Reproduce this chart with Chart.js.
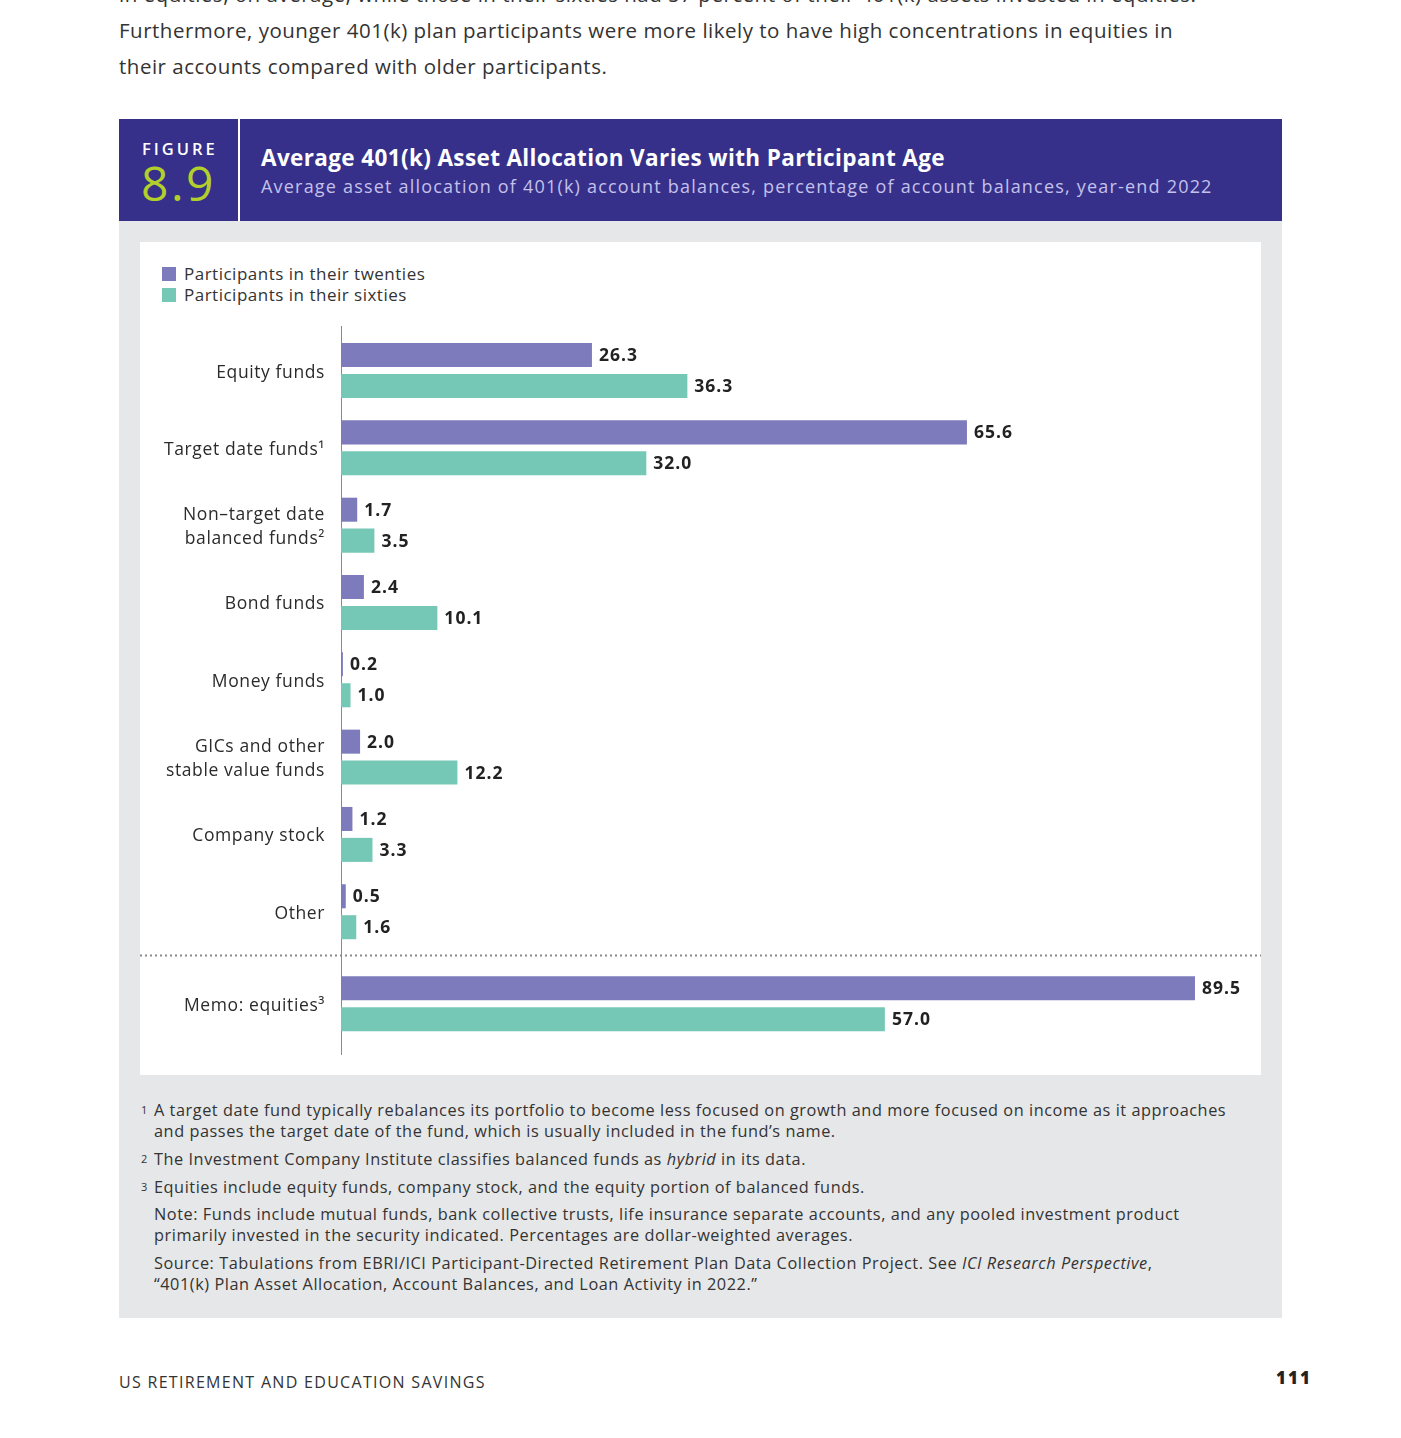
<!DOCTYPE html>
<html>
<head>
<meta charset="utf-8">
<script src="https://cdn.jsdelivr.net/npm/chart.js@4.4.0/dist/chart.umd.min.js"></script>
<style>
  html, body { margin:0; padding:0; background:#fff; }
  body { width:1401px; height:1438px; position:relative; overflow:hidden; font-family: "Open Sans", Lato, sans-serif; color:#2b2b2b; }
  .abs { position:absolute; }
  .intro { left:119px; font-size:20.5px; line-height:36px; color:#333; white-space:nowrap; letter-spacing:0.5px; }
  #header { left:119px; top:119px; width:1163px; height:102px; background:#36308a; }
  #divider { left:238px; top:119px; width:2px; height:102px; background:#fff; }
  #figlbl { left:142px; top:137px; font-size:16.5px; letter-spacing:3px; color:#fff; font-weight:600; }
  #fignum { left:141px; top:154px; font-size:48px; color:#b3cf2b; letter-spacing:2.5px; line-height:58px; }
  #title { left:261px; top:142px; font-size:22.5px; font-weight:700; color:#fff; letter-spacing:0.37px; }
  #subtitle { left:261px; top:174px; font-size:18px; color:#c4c1ea; letter-spacing:1.2px; }
  #panel { left:119px; top:221px; width:1163px; height:1097px; background:#e6e7e8; }
  #card { left:140px; top:242px; width:1121px; height:833px; background:#fff; }
  #legend { left:162px; top:263px; font-size:17px; color:#333; letter-spacing:0.5px; }
  #legend div { height:21px; line-height:21px; display:flex; align-items:center; }
  #legend span.sw { display:inline-block; width:14px; height:14px; margin-right:8px; }
  #chartbox { left:140px; top:310px; width:1121px; height:765px; }
  .fn { font-size:16.3px; line-height:21px; color:#333; white-space:nowrap; letter-spacing:0.55px; }
  .fn sup { font-size:11px; vertical-align:top; position:absolute; left:-13px; top:-1px; letter-spacing:0; }
  .footer { font-size:16px; color:#333; letter-spacing:1.3px; }
</style>
</head>
<body>
<div class="abs intro" style="top:-24px;">in equities, on average, while those in their sixties had 57 percent of their 401(k) assets invested in equities.</div>
<div class="abs intro" style="top:12px;">Furthermore, younger 401(k) plan participants were more likely to have high concentrations in equities in</div>
<div class="abs intro" style="top:48px;">their accounts compared with older participants.</div>

<div id="header" class="abs"></div>
<div id="divider" class="abs"></div>
<div id="figlbl" class="abs">FIGURE</div>
<div id="fignum" class="abs">8.9</div>
<div id="title" class="abs">Average 401(k) Asset Allocation Varies with Participant Age</div>
<div id="subtitle" class="abs">Average asset allocation of 401(k) account balances, percentage of account balances, year-end 2022</div>

<div id="panel" class="abs"></div>
<div id="card" class="abs"></div>
<div id="legend" class="abs"></div>
<div id="chartbox" class="abs"><canvas id="c" width="1121" height="765"></canvas></div>

<div class="abs fn" style="left:154px; top:1100px;"><sup>1</sup>A target date fund typically rebalances its portfolio to become less focused on growth and more focused on income as it approaches<br>and passes the target date of the fund, which is usually included in the fund’s name.</div>
<div class="abs fn" style="left:154px; top:1149px;"><sup>2</sup>The Investment Company Institute classifies balanced funds as <i>hybrid</i> in its data.</div>
<div class="abs fn" style="left:154px; top:1177px;"><sup>3</sup>Equities include equity funds, company stock, and the equity portion of balanced funds.</div>
<div class="abs fn" style="left:154px; top:1204px;">Note: Funds include mutual funds, bank collective trusts, life insurance separate accounts, and any pooled investment product<br>primarily invested in the security indicated. Percentages are dollar-weighted averages.</div>
<div class="abs fn" style="left:154px; top:1253px;">Source: Tabulations from EBRI/ICI Participant-Directed Retirement Plan Data Collection Project. See <i>ICI Research Perspective</i>,<br>“401(k) Plan Asset Allocation, Account Balances, and Loan Activity in 2022.”</div>

<div class="abs footer" style="left:119px; top:1371px;">US RETIREMENT AND EDUCATION SAVINGS</div>
<div class="abs footer" style="left:1252px; top:1366px; width:60px; text-align:right; font-weight:800; font-size:17px; color:#222; letter-spacing:2px;">111</div>

<script>
// ---- data ----
const categories = [
  'Equity funds',
  'Target date funds¹',
  ['Non–target date', 'balanced funds²'],
  'Bond funds',
  'Money funds',
  ['GICs and other', 'stable value funds'],
  'Company stock',
  'Other',
  'Memo: equities³'
];
const seriesNames = ['Participants in their twenties', 'Participants in their sixties'];
const twenties = [26.3, 65.6, 1.7, 2.4, 0.2, 2.0, 1.2, 0.5, 89.5];
const sixties  = [36.3, 32.0, 3.5, 10.1, 1.0, 12.2, 3.3, 1.6, 57.0];
// slot index of each category on the vertical axis (memo row sits after a separator)
const slots = [0, 1, 2, 3, 4, 5, 6, 7, 8.19];
const separatorSlot = 7.56;

const colors = ['#7d7bbb', '#76c8b6'];
const FONT = '"Open Sans", Lato, sans-serif';

// HTML legend
const legendEl = document.getElementById('legend');
seriesNames.forEach((n, i) => {
  const d = document.createElement('div');
  d.innerHTML = '<span class="sw" style="background:' + colors[i] + '"></span>' + n;
  legendEl.appendChild(d);
});

const spacing = {
  id: 'spacing',
  beforeDraw(chart) { chart.ctx.letterSpacing = '0.6px'; }
};

const valueLabels = {
  id: 'valueLabels',
  afterDatasetsDraw(chart) {
    const ctx = chart.ctx;
    ctx.save();
    ctx.letterSpacing = '1px';
    ctx.font = 'bold 17.5px ' + FONT;
    ctx.fillStyle = '#222';
    ctx.textBaseline = 'middle';
    ctx.textAlign = 'left';
    chart.data.datasets.forEach((ds, di) => {
      const meta = chart.getDatasetMeta(di);
      meta.data.forEach((el, i) => {
        ctx.fillText(ds.data[i].x.toFixed(1), el.x + 7, el.y + 1);
      });
    });
    ctx.restore();
  }
};

const separator = {
  id: 'separator',
  beforeDatasetsDraw(chart) {
    const ctx = chart.ctx;
    const y = Math.round(chart.scales.y.getPixelForValue(separatorSlot)) + 0.5;
    ctx.save();
    ctx.strokeStyle = '#8a8a8a';
    ctx.lineWidth = 2;
    ctx.setLineDash([2, 3]);
    ctx.beginPath();
    ctx.moveTo(0, y);
    ctx.lineTo(chart.width, y);
    ctx.stroke();
    ctx.restore();
  }
};

new Chart(document.getElementById('c'), {
  type: 'bar',
  data: {
    datasets: [
      { label: seriesNames[0], data: twenties.map((v, i) => ({ x: v, y: slots[i] })), backgroundColor: colors[0] },
      { label: seriesNames[1], data: sixties.map((v, i) => ({ x: v, y: slots[i] })), backgroundColor: colors[1] }
    ]
  },
  options: {
    indexAxis: 'y',
    responsive: false,
    animation: false,
    devicePixelRatio: 1,
    categoryPercentage: 0.8,
    barPercentage: 0.777,
    layout: { padding: { top: 16, bottom: 21, left: 0, right: 4 } },
    plugins: { legend: { display: false }, tooltip: { enabled: false } },
    scales: {
      x: { type: 'linear', min: 0, max: 96, display: false },
      y: {
        type: 'linear',
        reverse: true,
        offset: false,
        min: -0.576,
        max: 8.84,
        grid: { display: false, drawTicks: false, offset: false },
        border: { display: true, color: '#8a8a8a', width: 1 },
        afterBuildTicks(scale) { scale.ticks = slots.map(v => ({ value: v })); },
        afterFit(scale) { scale.width = 201; scale.paddingTop = 0; scale.paddingBottom = 0; },
        ticks: {
          autoSkip: false,
          padding: 16,
          labelOffset: 2,
          color: '#2b2b2b',
          font: { family: FONT, size: 17.5, lineHeight: 1.35 },
          callback: (value, index) => categories[index]
        }
      }
    }
  },
  plugins: [spacing, valueLabels, separator]
});
</script>
</body>
</html>
